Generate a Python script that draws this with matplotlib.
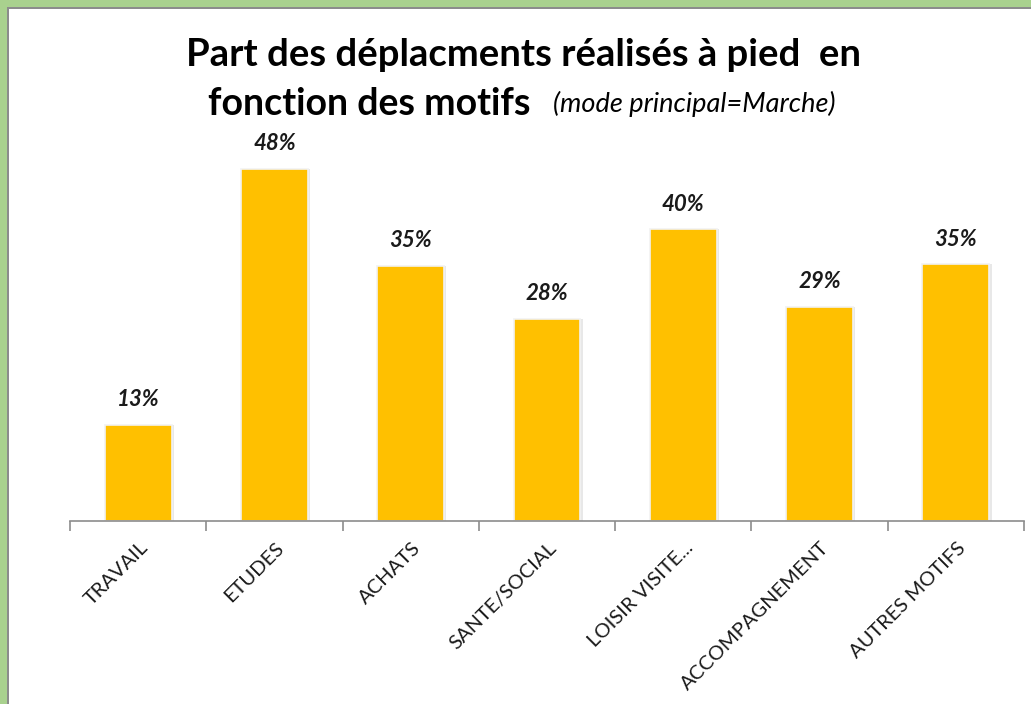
import matplotlib.pyplot as plt
from matplotlib.patches import Rectangle
import matplotlib.transforms as mtrans

# --- données ---
motifs = ['TRAVAIL', 'ETUDES', 'ACHATS', 'SANTE/SOCIAL', 'LOISIR VISITE...',
          'ACCOMPAGNEMENT', 'AUTRES MOTIFS']
parts = [13.1, 48.0, 34.8, 27.6, 39.8, 29.2, 35.0]

jaune = '#FFC000'
plt.rcParams['font.family'] = ['Lato', 'DejaVu Sans']

fig = plt.figure(figsize=(10.31, 7.04), dpi=100)
fig.patch.set_facecolor('white')

# cadre vert (haut + gauche), liseré gris
W, H = 1031, 704
fig.patches.append(Rectangle((0, 0), 1, 1, transform=fig.transFigure,
                             facecolor='#A9D18E', edgecolor='none', zorder=-3))
fig.patches.append(Rectangle((7 / W, -0.1), 1.2, (H - 7) / H + 0.1, transform=fig.transFigure,
                             facecolor='#8C8C8C', edgecolor='none', zorder=-2))
fig.patches.append(Rectangle((9 / W, -0.1), 1.2, (H - 9) / H + 0.1, transform=fig.transFigure,
                             facecolor='white', edgecolor='none', zorder=-1))

ax = fig.add_axes([70 / W, 1 - 521 / H, 954 / W, 371 / H])
ax.set_facecolor('none')

x = range(len(motifs))
# ombre légère
ax.bar([i + 0.012 for i in x], parts, width=0.5, color='#d9d9d9', alpha=0.6, zorder=1)
bars = ax.bar(x, parts, width=0.49, color=jaune, edgecolor='#f2f2f2', linewidth=1.2, zorder=2)

for b, v in zip(bars, parts):
    ax.text(b.get_x() + b.get_width() / 2, v + 2.0, f"{round(v):.0f}%", ha='center', va='bottom',
            fontsize=16, fontweight='bold', fontstyle='italic', color='#1a1a1a')

ax.set_xlim(-0.5, len(motifs) - 0.5)
ax.set_ylim(0, 50.6)
ax.set_yticks([])
for s in ['top', 'right', 'left']:
    ax.spines[s].set_visible(False)
ax.spines['bottom'].set_color('#8c8c8c')
ax.spines['bottom'].set_linewidth(1.2)

ax.set_xticks([i - 0.5 for i in range(len(motifs) + 1)], minor=False)
ax.set_xticklabels([])
ax.tick_params(axis='x', which='major', length=7, color='#8c8c8c', width=1.2, direction='out')

off = mtrans.ScaledTranslation(0.07, -0.24, fig.dpi_scale_trans)
for i, m in enumerate(motifs):
    ax.text(i, 0, m, rotation=45, rotation_mode='anchor', ha='right', va='center',
            fontsize=14.5, color='#1a1a1a',
            transform=ax.get_xaxis_transform() + off)

# titre
fig.text(524 / W, 1 - 55 / H, "Part des déplacments réalisés à pied  en", ha='center', va='center',
         fontsize=27.5, fontweight='bold', color='black')
fig.text(530 / W, 1 - 104 / H, "fonction des motifs", ha='right', va='center',
         fontsize=27, fontweight='bold', color='black')
fig.text(553 / W, 1 - 104 / H, "(mode principal=Marche)", ha='left', va='center',
         fontsize=19.5, fontstyle='italic', color='black')

fig.savefig('out.png', dpi=100)
